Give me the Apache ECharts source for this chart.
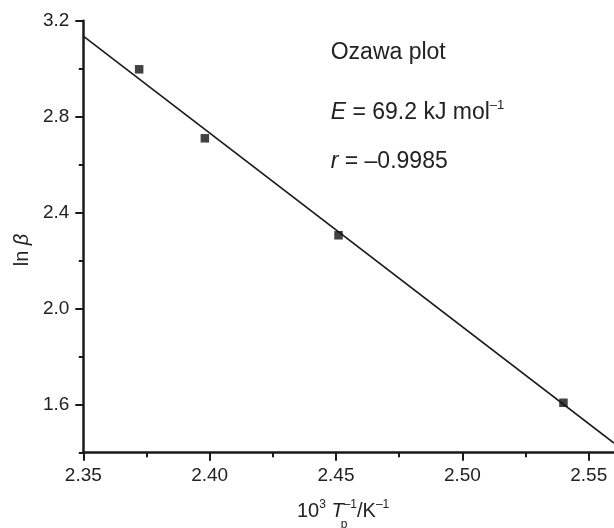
<!DOCTYPE html>
<html>
<head>
<meta charset="utf-8">
<script src="https://cdn.jsdelivr.net/npm/echarts@6/dist/echarts.min.js"></script>
<style>
  html, body { margin: 0; padding: 0; background: #fff; }
  #chart { width: 614px; height: 528px; }
</style>
</head>
<body>
<div id="chart"></div>
<script>
// Measured peak data: 10^3/Tp (K^-1) and ln(beta)
const invTp = [2.3721, 2.3981, 2.4510, 2.5400];
const lnBeta = [2.9975, 2.710, 2.306, 1.608];

// Linear fit endpoints (Ozawa line)
const fitX = [2.35, 2.56];
const fitY = [3.136, 1.440];

// Axis ticks
const xMajorTicks = [2.35, 2.40, 2.45, 2.50, 2.55];
const xMinorTicks = [2.375, 2.425, 2.475, 2.525];
const yMajorTicks = [1.6, 2.0, 2.4, 2.8, 3.2];
const yMinorTicks = [1.4, 1.8, 2.2, 2.6, 3.0];

const FONT = '"Liberation Sans", Arial, Helvetica, sans-serif';
const INK = '#1a1a1a';
const TXT = '#222';

const xRange = { min: 2.35, max: 2.56 };
const yRange = { min: 1.4, max: 3.2 };

const chart = echarts.init(document.getElementById('chart'), null, { renderer: 'canvas' });

const axisLineStyle = { color: INK, width: 2.5 };

function majorAxis(extra, range, ticks, digits) {
  return Object.assign({
    type: 'value',
    min: range.min,
    max: range.max,
    gridIndex: 0,
    axisLine: { show: true, onZero: false, lineStyle: axisLineStyle },
    axisTick: { show: true, inside: false, length: 8, customValues: ticks, lineStyle: { color: INK, width: 2 } },
    axisLabel: {
      show: true, customValues: ticks, margin: 14,
      color: TXT, fontSize: 19, fontFamily: FONT,
      formatter: v => Number(v).toFixed(digits)
    },
    splitLine: { show: false }
  }, extra);
}

function minorAxis(extra, range, ticks) {
  return Object.assign({
    type: 'value',
    min: range.min,
    max: range.max,
    gridIndex: 0,
    axisLine: { show: false, onZero: false },
    axisTick: { show: true, inside: false, length: 4.5, customValues: ticks, lineStyle: { color: INK, width: 2 } },
    axisLabel: { show: false },
    splitLine: { show: false }
  }, extra);
}

// measure text widths for the composed axis title
const mctx = document.createElement('canvas').getContext('2d');
function tw(text, size, italic) {
  mctx.font = (italic ? 'italic ' : '') + size + 'px ' + FONT;
  return mctx.measureText(text).width;
}

const xTitleLeft = 297;
const xTitleMid = 511;
const tEnd = xTitleLeft + tw('10', 20) + tw('3', 12) + tw(' ', 20) + tw('T', 20, true);

const option = {
  animation: false,
  backgroundColor: '#fff',
  grid: { left: 83.3, right: 0, top: 20.7, bottom: 75.3, outerBoundsMode: 'none', containLabel: false },
  xAxis: [
    majorAxis({ position: 'bottom' }, xRange, xMajorTicks, 2),
    minorAxis({ position: 'bottom' }, xRange, xMinorTicks)
  ],
  yAxis: [
    majorAxis({ position: 'left' }, yRange, yMajorTicks, 1),
    minorAxis({ position: 'left' }, yRange, yMinorTicks)
  ],
  series: [
    {
      type: 'line',
      xAxisIndex: 0, yAxisIndex: 0,
      data: fitX.map((x, i) => [x, fitY[i]]),
      symbol: 'none',
      lineStyle: { color: INK, width: 1.6 },
      z: 2
    },
    {
      type: 'scatter',
      xAxisIndex: 0, yAxisIndex: 0,
      data: invTp.map((x, i) => [x, lnBeta[i]]),
      symbol: 'rect',
      symbolSize: 8.5,
      itemStyle: { color: '#111' },
      z: 3
    }
  ],
  graphic: [
    {
      type: 'text', x: 330.7, y: 52.7,
      style: { text: 'Ozawa plot', fill: TXT, font: '23px ' + FONT, align: 'left', verticalAlign: 'middle' }
    },
    {
      type: 'text', x: 330.7, y: 113,
      style: {
        text: '{i|E}{n| = 69.2 kJ mol}{s|–1}',
        align: 'left', verticalAlign: 'middle',
        rich: {
          i: { fontSize: 23, fontStyle: 'italic', fontFamily: FONT, fill: TXT, color: TXT, lineHeight: 30 },
          n: { fontSize: 23, fontFamily: FONT, fill: TXT, color: TXT, lineHeight: 30 },
          s: { fontSize: 13, fontFamily: FONT, fill: TXT, color: TXT, lineHeight: 14, padding: [0, 0, 16, 0] }
        }
      }
    },
    {
      type: 'text', x: 330.7, y: 161.3,
      style: {
        text: '{i|r}{n| = –0.9985}',
        align: 'left', verticalAlign: 'middle',
        rich: {
          i: { fontSize: 23, fontStyle: 'italic', fontFamily: FONT, fill: TXT, color: TXT, lineHeight: 30 },
          n: { fontSize: 23, fontFamily: FONT, fill: TXT, color: TXT, lineHeight: 30 }
        }
      }
    },
    {
      type: 'text', x: xTitleLeft, y: xTitleMid,
      style: {
        text: '{n|10}{s|3}{n| }{i|T}{s|–1}{n|/K}{s|–1}',
        align: 'left', verticalAlign: 'middle',
        rich: {
          n: { fontSize: 20, fontFamily: FONT, fill: TXT, color: TXT, lineHeight: 26 },
          i: { fontSize: 20, fontStyle: 'italic', fontFamily: FONT, fill: TXT, color: TXT, lineHeight: 26 },
          s: { fontSize: 12, fontFamily: FONT, fill: TXT, color: TXT, lineHeight: 13, padding: [0, 0, 12, 0] }
        }
      }
    },
    {
      type: 'text', x: tEnd - 3, y: 524.8,
      style: { text: 'p', fill: TXT, font: '12px ' + FONT, align: 'left', verticalAlign: 'middle' }
    },
    {
      type: 'text', x: 22, y: 250, rotation: Math.PI / 2,
      style: {
        text: '{n|ln }{i|β}',
        align: 'center', verticalAlign: 'middle',
        rich: {
          n: { fontSize: 20, fontFamily: FONT, fill: TXT, color: TXT },
          i: { fontSize: 20, fontStyle: 'italic', fontFamily: FONT, fill: TXT, color: TXT }
        }
      }
    }
  ]
};

chart.setOption(option);
</script>
</body>
</html>
